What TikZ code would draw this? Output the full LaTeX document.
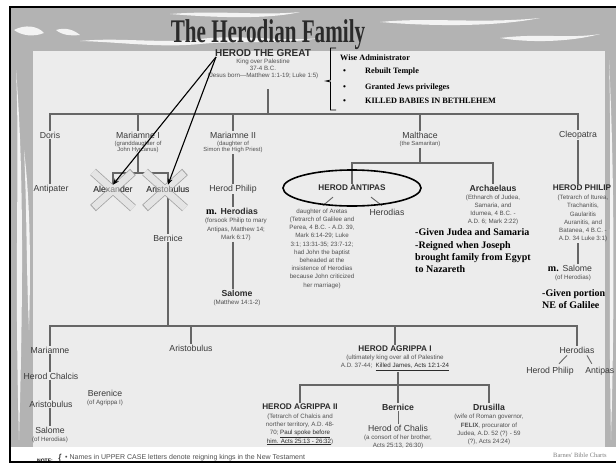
\documentclass[tikz,border=0pt]{standalone}
\usepackage{fontspec}
\setmainfont{Liberation Sans}
\newfontfamily\serifb{Liberation Serif}
\usetikzlibrary{arrows.meta}
\definecolor{namec}{HTML}{3A3A3A}
\definecolor{boldc}{HTML}{2C2C2C}
\definecolor{descc}{HTML}{505050}
\definecolor{linec}{HTML}{666666}
\definecolor{panelc}{HTML}{ECECEC}
\definecolor{bordc}{HTML}{B3B3B3}
\definecolor{titlec}{HTML}{2A2A2A}
\definecolor{xoutc}{HTML}{A4A4A4}
\tikzset{
  nm/.style={font=\fontsize{8.7}{10}\selectfont, text=namec, inner sep=1pt},
  bn/.style={font=\fontsize{8.7}{10}\selectfont\bfseries, text=boldc, inner sep=1pt},
  bc/.style={font=\fontsize{8.2}{10}\selectfont\bfseries, text=boldc, inner sep=1pt},
  ds/.style={font=\fontsize{6.2}{8.2}\selectfont, text=descc, align=center, inner sep=1pt},
  dst/.style={font=\fontsize{5.9}{6.8}\selectfont, text=descc, align=center, inner sep=1pt},
  sn/.style={font=\serifb\bfseries\fontsize{10}{12}\selectfont, text=black, inner sep=0pt, anchor=base west},
  wb/.style={font=\serifb\bfseries\fontsize{8.2}{10}\selectfont, text=black, inner sep=0pt, anchor=base west},
  conn/.style={draw=linec, line width=1.3pt},
  thin/.style={draw=linec, line width=0.9pt},
  arr/.style={draw=black, line width=1.1pt, -{Stealth[length=6pt,width=5pt]}},
  xout/.style={draw=xoutc, line width=8.5pt},
  xin/.style={draw=panelc, line width=6.9pt, opacity=0.9, shorten <=1pt, shorten >=1pt},
  streak/.style={fill=white, opacity=0.85},
}
\begin{document}
\begin{tikzpicture}[x=1pt,y=-1pt]
\useasboundingbox (0,0) rectangle (616,463);
\clip (0,0) rectangle (616,463);
% background and frame
\fill[white] (0,0) rectangle (616,463);
\fill[bordc] (10,7) rectangle (616,447);
% white streaks in the textured border
\fill[streak] (14,30) .. controls (25,24) and (38,26) .. (44,33) .. controls (34,37) and (22,36) .. (14,30) -- cycle;
\fill[streak] (56,30) .. controls (66,27) and (74,30) .. (80,35) .. controls (70,36) and (62,35) .. (56,30) -- cycle;
\fill[streak] (80,41) .. controls (120,37) and (160,44) .. (200,39) .. controls (240,34) and (280,42) .. (320,38) .. controls (280,45) and (240,40) .. (200,44) .. controls (160,48) and (120,42) .. (80,41) -- cycle;
\fill[streak] (170,14) .. controls (220,10) and (260,16) .. (300,12) .. controls (270,19) and (220,18) .. (170,14) -- cycle;
\fill[streak] (380,22) .. controls (430,17) and (480,24) .. (540,18) .. controls (500,26) and (440,27) .. (380,22) -- cycle;
\fill[streak] (500,38) .. controls (540,33) and (570,39) .. (600,34) .. controls (570,42) and (530,43) .. (500,38) -- cycle;
\fill[streak] (16,70) .. controls (20,160) and (14,260) .. (19,440) .. controls (23,300) and (24,170) .. (16,70) -- cycle;
\fill[streak] (24,150) .. controls (27,210) and (26,260) .. (29,330) .. controls (31,260) and (30,200) .. (24,150) -- cycle;
\fill[streak] (609,60) .. controls (612,160) and (608,280) .. (611,440) .. controls (615,300) and (614,160) .. (609,60) -- cycle;
% inner panel
\fill[panelc] (33,51) rectangle (605,447);
\draw[black, line width=2pt] (10,7) rectangle (660,462);

% title
\node[font=\serifb\bfseries\fontsize{33}{36}\selectfont, text=titlec, inner sep=0pt, anchor=base] (title) at (268,42) {\scalebox{0.64}[1]{The Herodian Family}};

% Herod the Great
\node[bc, font=\fontsize{10}{12}\selectfont\bfseries] (hg) at (263,53) {HEROD THE GREAT};
\node[ds, font=\fontsize{6.2}{7}\selectfont] (hgd) at (263,69) {King over Palestine\\37-4 B.C.\\(Jesus born—Matthew 1:1-19; Luke 1:5)};
\coordinate (hgb) at (268,89);
\coordinate (b1) at (268,114);
\draw[conn] (hgb) -- (b1);

% bracket and notes on Herod the Great
\draw[black, line width=0.8pt] (336,48) -- (330.5,48) -- (330.5,80) -- (326,81) -- (330.5,82) -- (330.5,110) -- (336,110);
\node[wb] (wise) at (340,60) {Wise Administrator};
\node[wb] (bu1) at (343,73) {•};
\node[wb] (w1) at (365,73) {Rebuilt Temple};
\node[wb] (bu2) at (343,89) {•};
\node[wb] (w2) at (365,89) {Granted Jews privileges};
\node[wb] (bu3) at (343,103) {•};
\node[wb] (w3) at (365,103) {KILLED BABIES IN BETHLEHEM};

% wives
\node[nm] (doris) at (50,135) {Doris};
\node[nm] (mar1) at (138,135) {Mariamne I};
\node[dst] (mar1d) at (138,147) {(granddaughter of\\John Hyrcanus)};
\node[nm] (mar2) at (233,135) {Mariamne II};
\node[dst] (mar2d) at (233,147) {(daughter of\\Simon the High Priest)};
\node[nm] (malt) at (420,135) {Malthace};
\node[dst] (maltd) at (420,144) {(the Samaritan)};
\node[nm] (cleo) at (578,135) {Cleopatra};
\draw[conn] (doris.north) -- (doris.north |- b1) -- (cleo.north |- b1) -- (cleo.north);
\foreach \n in {mar1,mar2,malt} \draw[conn] (\n.north) -- (\n.north |- b1);

% Doris
\node[nm] (antipater) at (51,189) {Antipater};
\draw[conn] (doris.south) -- (doris.south |- antipater.north);

% Mariamne I
\coordinate (b2) at (138,173);
\node[nm] (alex) at (113,189) {Alexander};
\node[nm] (arist) at (168,189) {Aristobulus};
\draw[conn] (mar1d.south) -- (mar1d.south |- b2);
\draw[conn] (alex.north) -- (alex.north |- b2) -- (arist.north |- b2) -- (arist.north);
\node[nm] (bern) at (168,238) {Bernice};
\draw[conn] (arist.south) -- (bern.north);
\coordinate (b3) at (168,326);
\draw[conn] (bern.south) -- (bern.south |- b3);

% Mariamne II
\node[nm] (hphil) at (233,189) {Herod Philip};
\draw[conn] (mar2d.south) -- (mar2d.south |- hphil.north);
\node[inner sep=1pt] (mher) at (232,211) {{\serifb\bfseries\fontsize{10}{12}\selectfont m.} {\fontsize{8.7}{10}\selectfont\bfseries\color{boldc}Herodias}};
\draw[conn] (hphil.south) -- (hphil.south |- mher.north);
\node[ds] (mherd) at (236,229.5) {(forsook Philip to mary\\Antipas, Matthew 14;\\Mark 6:17)};
\node[bn] (salome) at (237,293) {Salome};
\node[ds] (salomed) at (237,303) {(Matthew 14:1-2)};
\draw[conn] (hphil.south |- mherd.south) -- (hphil.south |- salome.north);

% Malthace
\coordinate (b4) at (420,163);
\draw[conn] (maltd.south) -- (maltd.south |- b4);
\node[bc] (antipas) at (352,188) {HEROD ANTIPAS};
\node[bn] (arch) at (493,188) {Archaelaus};
\draw[conn] (antipas.north) -- (antipas.north |- b4) -- (arch.north |- b4) -- (arch.north);
\node[ds] (aretas) at (322,248.5) {daughter of Aretas\\(Tetrarch of Galilee and\\Perea, 4 B.C. - A.D. 39,\\Mark 6:14-29; Luke\\3:1; 13:31-35; 23:7-12;\\had John the baptist\\beheaded at the\\insistence of Herodias\\because John criticized\\her marriage)};
\node[nm] (herodias1) at (387,212) {Herodias};
\draw[thin] ([shift={(-19,5)}]antipas.south) -- ([shift={(1,-2)}]aretas.north);
\draw[thin] ([shift={(19,5)}]antipas.south) -- ([shift={(-5,-2)}]herodias1.north);
\draw[black, line width=1.6pt] (antipas.center) ellipse [x radius=69pt, y radius=18pt];

\node[ds] (archd) at (493,210) {(Ethnarch of Judea,\\Samaria, and\\Idumea, 4 B.C. -\\A.D. 6; Mark 2:22)};
\node[sn] (g1) at (415,235) {-Given Judea and Samaria};
\node[sn] (g2) at (415,248) {-Reigned when Joseph};
\node[sn] (g3) at (415,260) {brought family from Egypt};
\node[sn] (g4) at (415,272) {to Nazareth};

% Cleopatra
\node[bc] (hphil2) at (582,188) {HEROD PHILIP};
\draw[conn] (cleo.south) -- (cleo.south |- hphil2.north);
\node[ds] (hp2d) at (583,218.5) {(Tetrarch of Iturea,\\Trachanitis,\\Gaularitis\\Auranitis, and\\Batanea, 4 B.C. -\\A.D. 34 Luke 3:1)};
\node[inner sep=1pt] (msal) at (570,268) {{\serifb\bfseries\fontsize{10}{12}\selectfont m.} {\fontsize{8.7}{10}\selectfont\color{namec}Salome}};
\node[ds] (msald) at (573,278) {(of Herodias)};
\draw[conn] (cleo.south |- hp2d.south) -- (cleo.south |- msal.north);
\node[sn] (gp1) at (542,296) {-Given portion};
\node[sn] (gp2) at (542,308) {NE of Galilee};

% next generation
\node[nm] (mar3) at (50,350) {Mariamne};
\node[nm] (hchal) at (51,376) {Herod Chalcis};
\node[nm] (arist3) at (51,404) {Aristobulus};
\node[nm] (salome3) at (50,430) {Salome};
\node[ds] (salome3d) at (50,440) {(of Herodias)};
\node[nm] (berenice) at (105,393) {Berenice};
\node[ds] (bereniced) at (105,402.5) {(of Agrippa I)};
\node[nm] (arist2) at (191,348) {Aristobulus};
\node[bc] (agr1) at (395,349) {HEROD AGRIPPA I};
\node[ds] (agr1d) at (395,363) {(ultimately king over all of Palestine\\A.D. 37-44;\ \ \textcolor{boldc}{\underline{Killed James, Acts 12:1-24}}};
\node[nm] (herodias2) at (577,350) {Herodias};
\draw[conn] (mar3.north) -- (mar3.north |- b3) -- (herodias2.north |- b3) -- (herodias2.north);
\draw[conn] (arist2.north) -- (arist2.north |- b3);
\draw[conn] (agr1.north) -- (agr1.north |- b3);
\draw[conn] (mar3.south) -- (mar3.south |- hchal.north);
\draw[conn] (mar3.south |- hchal.south) -- (mar3.south |- arist3.north);
\draw[conn] (mar3.south |- arist3.south) -- (mar3.south |- salome3.north);

% Herodias (lower right)
\node[nm] (hphil3) at (550,371) {Herod Philip};
\node[nm, anchor=east] (antipas3) at (615.5,371) {Antipas};
\draw[thin] ([shift={(-10,1)}]herodias2.south) -- ([shift={(9,-2)}]hphil3.north);
\draw[thin] ([shift={(10,1)}]herodias2.south) -- ([shift={(-8,-2)}]antipas3.north);

% Agrippa I children
\coordinate (b5) at (398,385);
\node[bc] (agr2) at (300,407) {HEROD AGRIPPA II};
\node[bn] (bern2) at (398,407) {Bernice};
\node[bn] (drus) at (489,407) {Drusilla};
\draw[conn] (agr1d.south -| bern2) -- (bern2.north);
\draw[conn] (agr2.north) -- (agr2.north |- b5) -- (drus.north |- b5) -- (drus.north);
\node[ds] (agr2d) at (300,429.5) {(Tetrarch of Chalcis and\\norther territory, A.D. 48-\\70; \textcolor{boldc}{\underline{Paul spoke before}}\\\textcolor{boldc}{\underline{him. Acts 25:13 - 26:32}})};
\node[nm] (hochalis) at (398,428) {Herod of Chalis};
\draw[thin] (bern2.south) -- (hochalis.north);
\node[ds] (hochalisd) at (398,441.5) {(a consort of her brother,\\Acts 25:13, 26:30)};
\node[ds] (drusd) at (489,429.5) {(wife of Roman governor,\\\textbf{FELIX}, procurator of\\Judea, A.D. 52 (?) - 59\\(?), Acts 24:24)};

% crosses over Alexander and Aristobulus
\draw[xout] (93,172) -- (133,208) (133,172) -- (93,208);
\draw[xin] (93,172) -- (133,208) (133,172) -- (93,208);
\draw[xout] (145,172) -- (185,208) (185,172) -- (145,208);
\draw[xin] (145,172) -- (185,208) (185,172) -- (145,208);
% names shown faintly through the crosses
\node[nm, opacity=0.6] (alexv) at (alex) {Alexander};
\node[nm, opacity=0.6] (aristv) at (arist) {Aristobulus};

% arrows from Herod the Great
\coordinate (hga) at (216,57);
\draw[arr] (hga) -- (alex.north);
\draw[arr] (hga) -- (arist.north);

% note
\node[font=\fontsize{5}{6}\selectfont\bfseries, text=black, inner sep=0pt] (notel) at (45,461) {NOTE:};
\node[font=\fontsize{10}{10}\selectfont, text=black, inner sep=0pt] (nbrace) at (60,459) {\{};
\node[anchor=west, font=\fontsize{7}{8}\selectfont, text=descc, inner sep=0pt] (note1) at (65,458) {• Names in UPPER CASE letters denote reigning kings in the New Testament};
\node[anchor=west, font=\serifb\fontsize{6.5}{8}\selectfont, text=gray, inner sep=0pt] (barnes) at (553,455) {Barnes' Bible Charts};
\end{tikzpicture}
\end{document}
